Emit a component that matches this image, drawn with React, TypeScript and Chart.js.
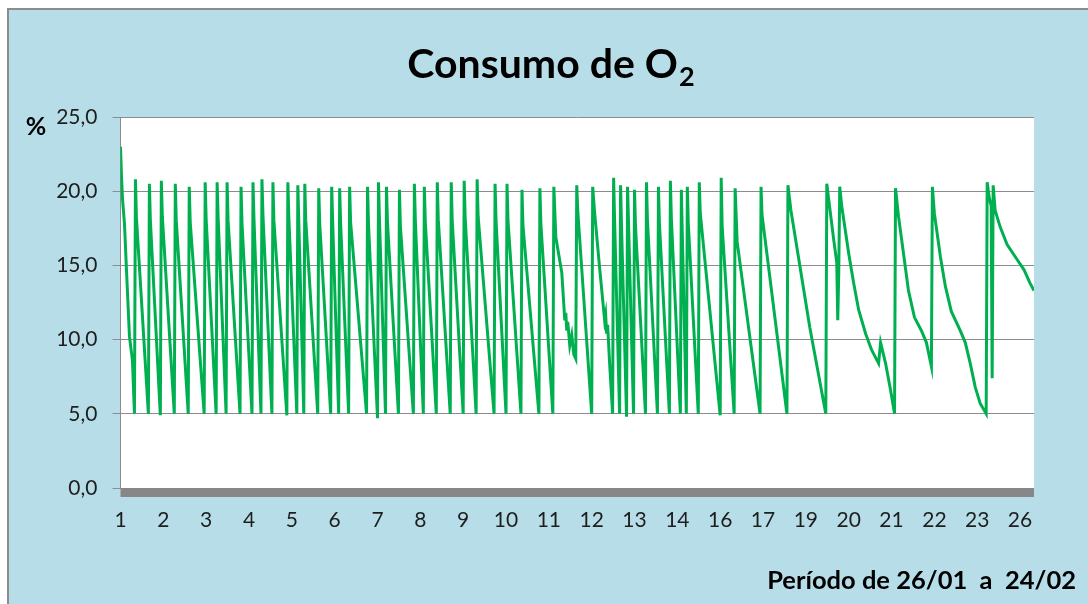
import { useEffect, useRef } from 'react';
import { Chart, registerables } from 'chart.js';

Chart.register(...registerables);

// Day labels shown under the category axis (one every 43 samples)
const dayLabels = ['1', '2', '3', '4', '5', '6', '7', '8', '9', '10', '11', '12', '13', '14', '16', '17', '19', '20', '21', '22', '23', '26'];
const samplesPerLabel = 43;
const lastSample = 917;

const yTicks = [0, 5, 10, 15, 20, 25];

// O2 readings: [sample index, % O2]
const o2Series: [number, number][] = [
  [0, 23.0], [1, 21.0], [2, 19.5], [4, 17.8], [6, 14.7], [9, 10.2], [12, 8.6], [14, 5.0],
  [15, 20.8], [16, 18.2], [28, 5.0],
  [29, 20.5], [30, 18.0], [40, 4.9],
  [41, 20.7], [42, 18.3], [54, 5.0],
  [55, 20.5], [56, 18.0], [68, 5.0],
  [69, 20.3], [70, 17.9], [84, 5.0],
  [85, 20.6], [86, 18.1], [96, 5.0],
  [97, 20.6], [98, 18.2], [106, 5.0],
  [107, 20.6], [108, 18.0], [120, 5.0],
  [121, 20.3], [122, 17.8], [132, 5.0],
  [133, 20.6], [134, 18.1], [141, 5.0],
  [142, 20.8], [143, 18.4], [152, 5.0],
  [153, 20.6], [154, 18.0], [167, 4.9],
  [168, 20.6], [169, 18.2], [177, 5.0],
  [178, 20.4], [179, 17.9], [184, 5.0],
  [185, 20.5], [186, 18.0], [198, 5.0],
  [199, 20.2], [200, 17.8], [211, 5.0],
  [212, 20.3], [213, 17.9], [219, 5.0],
  [220, 20.2], [221, 17.8], [229, 5.0],
  [230, 20.3], [231, 17.9], [247, 5.0],
  [248, 20.3], [249, 17.7], [258, 4.7],
  [259, 20.6], [260, 18.0], [266, 5.0],
  [267, 20.3], [268, 17.9], [279, 5.0],
  [280, 20.1], [281, 17.6], [294, 5.0],
  [295, 20.5], [296, 18.0], [304, 5.0],
  [305, 20.3], [306, 17.9], [317, 5.0],
  [318, 20.6], [319, 18.1], [331, 5.0],
  [332, 20.6], [333, 18.0], [344, 5.0],
  [345, 20.7], [346, 18.2], [357, 5.0],
  [358, 20.8], [359, 18.3], [375, 5.0],
  [376, 20.5], [377, 18.0], [387, 5.0],
  [388, 20.5], [389, 18.0], [402, 5.0],
  [403, 20.1], [404, 17.7], [420, 5.0],
  [421, 20.2], [422, 17.8], [434, 5.0],
  [435, 20.3], [437, 16.9], [443, 14.5], [446, 11.3], [447, 11.8], [448, 10.6], [449, 11.2], [451, 9.6], [453, 10.3], [455, 9.0], [457, 8.7],
  [458, 20.4], [459, 18.7], [473, 5.0],
  [474, 20.3], [476, 18.5], [481, 14.8], [486, 11.3], [487, 11.7], [488, 10.4], [489, 11.0], [491, 8.4], [494, 5.0],
  [495, 20.9], [496, 18.0], [501, 5.0],
  [502, 20.4], [503, 17.5], [508, 4.8],
  [509, 20.3], [510, 17.8], [515, 5.0],
  [516, 20.1], [517, 17.6], [527, 5.0],
  [528, 20.6], [529, 18.0], [539, 5.0],
  [540, 20.3], [541, 17.8], [551, 5.0],
  [552, 20.7], [553, 18.1], [562, 5.0],
  [563, 20.1], [564, 17.0], [568, 5.0],
  [569, 20.3], [570, 17.8], [580, 5.0],
  [581, 20.6], [582, 18.5], [602, 4.9],
  [603, 20.9], [604, 17.6], [616, 5.0],
  [617, 20.2], [619, 16.6], [642, 5.0],
  [643, 20.3], [644, 18.4], [669, 5.0],
  [670, 20.4], [673, 18.7], [692, 10.8], [708, 5.0],
  [709, 20.5], [711, 19.4], [716, 16.7], [719, 15.2], [720, 11.3], [721, 14.5],
  [722, 20.3], [724, 19.0], [731, 15.8], [736, 13.8], [741, 12.0], [748, 10.4], [754, 9.3], [761, 8.4], [763, 9.8], [768, 8.4], [773, 6.6], [777, 5.0],
  [778, 20.2], [781, 18.3], [786, 15.8], [791, 13.3], [797, 11.5], [804, 10.6], [809, 9.8], [814, 8.2],
  [815, 20.3], [817, 18.5], [823, 15.6], [828, 13.6], [834, 11.9], [843, 10.6], [848, 9.8], [853, 8.4], [858, 6.8], [863, 5.7], [869, 5.0],
  [870, 20.6], [872, 19.6], [874, 19.0], [875, 7.4], [876, 20.4], [878, 18.7], [883, 17.6], [890, 16.4], [900, 15.4], [907, 14.7], [913, 13.8], [917, 13.3],
];

const W = 1088;
const H = 604;
const FONT = 'Lato, "Open Sans", sans-serif';
const TEXT = '#1e1e1e';
const GRID = '#8C8C8C';

const decorPlugin = {
  id: 'decor',
  beforeDraw(chart: any) {
    const { ctx, chartArea } = chart;
    ctx.save();
    ctx.fillStyle = '#ffffff';
    ctx.fillRect(0, 0, W, H);
    ctx.fillStyle = '#B7DEE8';
    ctx.fillRect(8, 9, W - 8, H - 9);
    ctx.strokeStyle = GRID;
    ctx.lineWidth = 2;
    ctx.beginPath();
    ctx.moveTo(8, H);
    ctx.lineTo(8, 9);
    ctx.lineTo(W, 9);
    ctx.stroke();
    ctx.fillStyle = '#ffffff';
    ctx.fillRect(chartArea.left, chartArea.top, chartArea.right - chartArea.left, chartArea.bottom - chartArea.top);
    ctx.restore();
  },
  afterDatasetsDraw(chart: any) {
    const { ctx, chartArea } = chart;
    ctx.save();
    ctx.fillStyle = '#878787';
    ctx.fillRect(chartArea.left, chartArea.bottom, chartArea.right - chartArea.left, 9);
    ctx.restore();
  },
  afterDraw(chart: any) {
    const { ctx } = chart;
    ctx.save();
    ctx.fillStyle = '#000000';
    ctx.textBaseline = 'alphabetic';
    ctx.textAlign = 'left';
    // Title with subscript
    const main = 'Consumo de O';
    const sub = '2';
    ctx.font = `bold 41px ${FONT}`;
    const w1 = ctx.measureText(main).width;
    ctx.font = `bold 27px ${FONT}`;
    const w2 = ctx.measureText(sub).width;
    const startX = 551 - (w1 + w2 + 1) / 2;
    ctx.font = `bold 41px ${FONT}`;
    ctx.fillText(main, startX, 78);
    ctx.font = `bold 27px ${FONT}`;
    ctx.fillText(sub, startX + w1 + 1, 86);
    // Unit label
    ctx.font = `bold 25px ${FONT}`;
    ctx.textAlign = 'center';
    ctx.textBaseline = 'middle';
    ctx.fillText('%', 36, 127);
    // Footer
    ctx.font = `bold 25.5px ${FONT}`;
    ctx.textAlign = 'right';
    ctx.textBaseline = 'alphabetic';
    ctx.fillText('Período de 26/01  a  24/02', 1076, 589);
    ctx.restore();
  },
};

export default function App() {
  const canvasRef = useRef<HTMLCanvasElement | null>(null);

  useEffect(() => {
    if (!canvasRef.current) return;
    const chart = new Chart(canvasRef.current, {
      type: 'line',
      data: {
        datasets: [
          {
            label: 'Consumo de O2',
            data: o2Series.map(([x, y]) => ({ x, y })),
            borderColor: '#00B050',
            borderWidth: 3,
            pointRadius: 0,
            fill: false,
            tension: 0,
          },
        ],
      },
      options: {
        animation: false,
        responsive: false,
        devicePixelRatio: 1,
        layout: { padding: { left: 0, top: 117, right: 54, bottom: 56 } },
        plugins: { legend: { display: false }, tooltip: { enabled: false }, title: { display: false } },
        scales: {
          x: {
            type: 'linear',
            min: 0,
            max: lastSample,
            grid: { display: false, drawTicks: false },
            border: { display: false },
            afterBuildTicks: (scale: any) => {
              scale.ticks = dayLabels.map((_, i) => ({ value: i * samplesPerLabel }));
            },
            afterFit: (scale: any) => {
              scale.height = 60;
            },
            ticks: {
              autoSkip: false,
              maxRotation: 0,
              padding: 20,
              color: TEXT,
              font: { family: FONT, size: 21 },
              callback: (_v: any, i: number) => dayLabels[i] ?? '',
            },
          },
          y: {
            min: 0,
            max: 25,
            afterBuildTicks: (scale: any) => {
              scale.ticks = yTicks.map((v) => ({ value: v }));
            },
            afterFit: (scale: any) => {
              scale.width = 120.5;
            },
            grid: { color: GRID, lineWidth: 1, tickLength: 8, tickColor: GRID },
            border: { color: GRID },
            ticks: {
              padding: 15,
              color: TEXT,
              font: { family: FONT, size: 21 },
              callback: (v: any) => Number(v).toFixed(1).replace('.', ','),
            },
          },
        },
      },
      plugins: [decorPlugin],
    });
    return () => chart.destroy();
  }, []);

  return (
    <div style={{ position: 'fixed', left: 0, top: 0, width: W, height: H }}>
      <canvas ref={canvasRef} width={W} height={H} style={{ display: 'block', width: W, height: H }} />
    </div>
  );
}
